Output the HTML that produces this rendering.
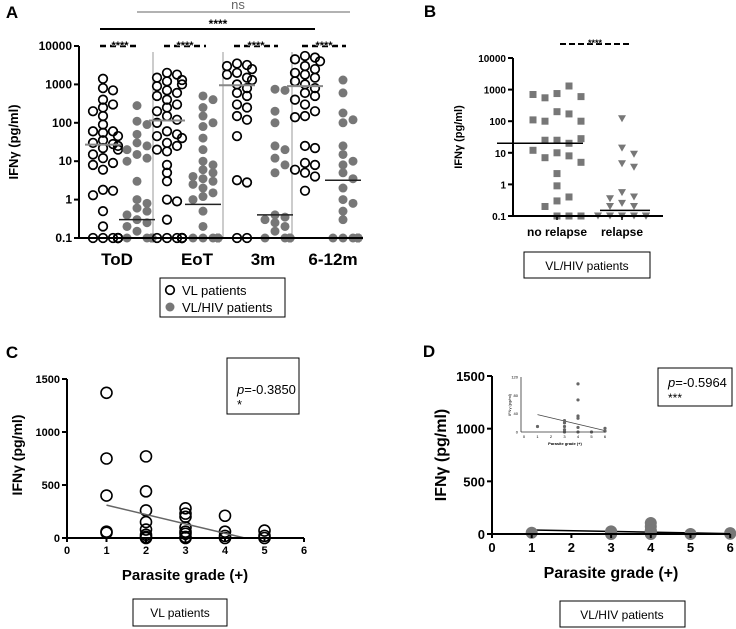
<!DOCTYPE html>
<html><head><meta charset="utf-8"><style>
body{margin:0;background:#fff}
svg{display:block;font-family:"Liberation Sans",Arial,sans-serif}
</style></head><body>
<svg id="fig" width="736" height="629" viewBox="0 0 736 629" xmlns="http://www.w3.org/2000/svg"></svg>
<script>
// ---------- Panel A data ----------
const aGroups = ["ToD","EoT","3m","6-12m"];
const aVL = [
 [1400,800,700,400,300,250,200,150,90,60,55,60,45,35,30,28,25,22,20,15,12,9,8,6,1.8,1.7,1.3,0.5,0.2,0.1,0.1,0.1,0.1,0.1,0.1,0.1,0.1],
 [2000,1800,1500,1300,1200,1000,900,700,600,500,400,300,250,200,150,120,100,60,50,45,40,30,25,20,18,8,5,3,1,0.9,0.3,0.1,0.1,0.1,0.1,0.1,0.1,0.1,0.1],
 [3500,3200,3000,2500,2000,1800,1500,1300,1000,800,600,500,300,250,150,120,45,3.2,2.8,0.1,0.1],
 [5500,5000,4500,4000,3000,2500,2000,1800,1500,1200,1000,800,600,500,400,300,200,150,140,25,22,9,8,6,5,4,1.7]
];
const aHIV = [
 [280,110,90,50,30,25,20,15,12,10,3,1,0.8,0.6,0.5,0.4,0.3,0.25,0.2,0.15,0.1,0.1,0.1,0.1,0.1,0.1,0.1,0.1,0.1,0.1,0.1,0.1],
 [500,400,250,150,100,80,40,20,10,8,6,5,4,3.5,3,2.5,2,1.5,1.2,1,0.5,0.2,0.1,0.1,0.1,0.1,0.1,0.1,0.1,0.1,0.1,0.1,0.1,0.1,0.1,0.1],
 [750,700,200,100,25,20,12,8,5,0.4,0.35,0.3,0.25,0.2,0.15,0.1,0.1,0.1,0.1,0.1,0.1,0.1,0.1],
 [1300,600,180,120,100,25,15,10,8,5,3.5,2,1,0.8,0.5,0.3,0.1,0.1,0.1,0.1,0.1,0.1,0.1,0.1,0.1,0.1,0.1,0.1]
];
const aVLMed = [27,115,950,900];
const aHIVMed = [0.3,0.75,0.4,3.2];
const aTicks = [0.1,1,10,100,1000,10000];
const aTickLabels = ["0.1","1","10","100","1000","10000"];
// ---------- Panel B data ----------
const bCats = ["no relapse","relapse"];
const bNoRel = [750,1300,550,600,700,200,170,100,100,110,25,20,25,28,10,8,7,12,5,2.2,0.9,0.4,0.3,0.2,0.1,0.1,0.1];
const bRel = [120,14,9,4.5,3.5,0.55,0.4,0.35,0.25,0.2,0.2,0.1,0.1,0.1,0.1,0.1,0.1,0.1,0.1];
const bMed = [20,0.15];
// ---------- Panel C data ----------
const cX = [1,1,1,1,1,2,2,2,2,2,2,2,2,3,3,3,3,3,3,3,3,4,4,4,4,5,5,5];
const cY = [1370,750,400,60,50,770,440,260,150,80,30,10,0,280,230,200,100,60,40,10,0,210,60,20,0,70,20,0];
const cFit = [[1,310],[4.5,0]];
const linTicks = [0,500,1000,1500];
const xTicks = [0,1,2,3,4,5,6];
// ---------- Panel D data ----------
const dX = [1,3,3,3,3,3,4,4,4,4,4,4,5,6,6];
const dY = [12,25,20,12,5,0,105,70,35,30,10,0,0,8,2];
const dFit = [[1,38],[6,3]];
const insetTicks = [0,40,80,120];

const NS="http://www.w3.org/2000/svg";
const svg=document.getElementById('fig');
function el(tag,attrs,parent,text){const e=document.createElementNS(NS,tag);for(const k in attrs)e.setAttribute(k,attrs[k]);if(text!==undefined)e.textContent=text;(parent||svg).appendChild(e);return e;}
function grp(name){const g=el('g',{});return g;}
function txt(p,x,y,s,size,opts){const t=el('text',Object.assign({x:x,y:y,'font-size':size,'text-anchor':'middle'},opts||{}),p,s);return t;}
function swarm(vals,ymap,sep,step,lim){const placed=[];const offs=[];vals.forEach(v=>{const y=ymap(v);let k=0,off=0;while(true){off=(k%2?1:-1)*Math.ceil(k/2)*step;if(!placed.some(p=>Math.abs(p.y-y)<sep&&Math.abs(p.x-off)<sep))break;k++;if(Math.abs(off)>lim)break;}off=Math.max(-lim,Math.min(lim,off));placed.push({x:off,y:y});offs.push(off);});return offs;}

// ================= Panel A =================
{
const g=grp('panel-a');
txt(g,12,18,'A',17,{'font-weight':'bold'});
const x0=79,x1=363,yTop=46,yBot=238;
const yA=v=>yBot-(Math.log10(v)+1)/5*(yBot-yTop);
[153,223,292].forEach(d=>{const l=el('line',{x1:d,y1:yTop+6,x2:d,y2:yBot,stroke:'#999','stroke-width':1},g);});
const vlx=[103,167,237,305],hx=[137,203,275,343],lx=[117,197,263,333];
aGroups.forEach((name,i)=>{
  const offV=swarm(aVL[i],yA,7.5,5,15);
  aVL[i].forEach((v,j)=>{const c=el('circle',{cx:vlx[i]+offV[j],cy:yA(v),r:4.3,fill:'none',stroke:'#000','stroke-width':1.7},g);});
  const offH=swarm(aHIV[i],yA,7.5,5,15);
  aHIV[i].forEach((v,j)=>{const c=el('circle',{cx:hx[i]+offH[j],cy:yA(v),r:4.5,fill:'#777'},g);});
  const m1=el('line',{x1:vlx[i]-18,x2:vlx[i]+18,y1:yA(aVLMed[i]),y2:yA(aVLMed[i]),stroke:'#888','stroke-width':2},g);
  const m2=el('line',{x1:hx[i]-18,x2:hx[i]+18,y1:yA(aHIVMed[i]),y2:yA(aHIVMed[i]),stroke:'#222','stroke-width':1.5},g);
  const d=el('line',{x1:vlx[i]-3,x2:hx[i]+3,y1:yTop,y2:yTop,stroke:'#000','stroke-width':2.5,'stroke-dasharray':'6,4'},g);
  const s=txt(g,(vlx[i]+hx[i])/2,yTop+3,'****',11,{'font-weight':'bold',fill:'#000',stroke:'#fff','stroke-width':0.6,'paint-order':'stroke'});
  const t=txt(g,lx[i],265,name,17,{'font-weight':'bold'});
});
el('line',{x1:x0,y1:yTop,x2:x0,y2:yBot,stroke:'#000','stroke-width':2},g);
el('line',{x1:x0,y1:yBot,x2:x1,y2:yBot,stroke:'#000','stroke-width':2},g);
aTicks.forEach((v,i)=>{el('line',{x1:x0-5,x2:x0,y1:yA(v),y2:yA(v),stroke:'#000','stroke-width':2},g);const t=txt(g,x0-7,yA(v)+4,aTickLabels[i],12,{'text-anchor':'end','font-weight':'bold'});});
const yt=txt(g,0,0,'IFNγ (pg/ml)',13,{'font-weight':'bold',transform:'translate(18,142) rotate(-90)'});
el('line',{x1:137,x2:350,y1:12,y2:12,stroke:'#999','stroke-width':1.5},g);
txt(g,238,9,'ns',13,{fill:'#666'});
el('line',{x1:100,x2:315,y1:29,y2:29,stroke:'#000','stroke-width':2},g);
txt(g,218,28,'****',12,{'font-weight':'bold'});
const lg=grp('legend-a');g.appendChild(lg);
el('rect',{x:160,y:278,width:125,height:39,fill:'#fff',stroke:'#000','stroke-width':1},lg);
el('circle',{cx:170,cy:290,r:4.3,fill:'none',stroke:'#000','stroke-width':1.7},lg);
txt(lg,182,295,'VL patients',13,{'text-anchor':'start'});
el('circle',{cx:170,cy:307,r:4.5,fill:'#777'},lg);
txt(lg,182,312,'VL/HIV patients',13,{'text-anchor':'start'});
}
// ================= Panel B =================
{
const g=grp('panel-b');
txt(g,430,17,'B',17,{'font-weight':'bold'});
const x0=513,x1=663,yTop=58,yBot=216;
const yB=v=>yBot-(Math.log10(v)+1)/5*(yBot-yTop);
const cx=[557,622];
const offN=swarm(bNoRel,yB,12,12,24);
bNoRel.forEach((v,j)=>{const r=el('rect',{x:cx[0]+offN[j]-3.5,y:yB(v)-3.5,width:7,height:7,fill:'#777'},g);});
const offR=swarm(bRel,yB,7,6,24);
bRel.forEach((v,j)=>{const o=offR[j];const y=yB(v);const p=el('path',{d:`M${cx[1]+o-4},${y-3.5}L${cx[1]+o+4},${y-3.5}L${cx[1]+o},${y+3.5}Z`,fill:'#777'},g);});
[[497,583],[600,650]].forEach((r,i)=>{const l=el('line',{x1:r[0],x2:r[1],y1:yB(bMed[i]),y2:yB(bMed[i]),stroke:'#000','stroke-width':1.5},g);});
el('line',{x1:x0,y1:yTop,x2:x0,y2:yBot,stroke:'#000','stroke-width':2},g);
el('line',{x1:x0,y1:yBot,x2:x1,y2:yBot,stroke:'#000','stroke-width':2},g);
aTicks.forEach((v,i)=>{el('line',{x1:x0-5,x2:x0,y1:yB(v),y2:yB(v),stroke:'#000','stroke-width':2},g);txt(g,x0-7,yB(v)+4,aTickLabels[i],10,{'text-anchor':'end','font-weight':'bold'});});
bCats.forEach((c,i)=>{el('line',{x1:cx[i],x2:cx[i],y1:yBot,y2:yBot+4,stroke:'#000','stroke-width':1.5},g);const t=txt(g,cx[i],236,c,12,{'font-weight':'bold'});});
txt(g,0,0,'IFNγ (pg/ml)',11,{'font-weight':'bold',transform:'translate(462,137) rotate(-90)'});
el('line',{x1:560,x2:630,y1:44,y2:44,stroke:'#000','stroke-width':2,'stroke-dasharray':'6,3'},g);
txt(g,595,46,'****',9,{'font-weight':'bold',fill:'#000',stroke:'#fff','stroke-width':0.6,'paint-order':'stroke'});
el('rect',{x:524,y:252,width:126,height:26,fill:'#fff',stroke:'#000','stroke-width':1},g);
txt(g,587,270,'VL/HIV patients',12);
}
// ================= Panel C =================
{
const g=grp('panel-c');
txt(g,12,358,'C',17,{'font-weight':'bold'});
const x0=67,yTop=379,yBot=538,pu=39.5;
const xC=v=>x0+v*pu, yC=v=>yBot-v/1500*(yBot-yTop);
cX.forEach((xv,i)=>{const c=el('circle',{cx:xC(xv),cy:yC(cY[i]),r:5.5,fill:'none',stroke:'#000','stroke-width':1.6},g);});
const f=el('line',{x1:xC(cFit[0][0]),y1:yC(cFit[0][1]),x2:xC(cFit[1][0]),y2:yC(cFit[1][1]),stroke:'#666','stroke-width':1.5},g);
el('line',{x1:x0,y1:yTop,x2:x0,y2:yBot,stroke:'#000','stroke-width':2},g);
el('line',{x1:x0,y1:yBot,x2:xC(6),y2:yBot,stroke:'#000','stroke-width':2},g);
linTicks.forEach(v=>{el('line',{x1:x0-5,x2:x0,y1:yC(v),y2:yC(v),stroke:'#000','stroke-width':2},g);txt(g,x0-7,yC(v)+4,String(v),11,{'text-anchor':'end','font-weight':'bold'});});
xTicks.forEach(v=>{el('line',{x1:xC(v),x2:xC(v),y1:yBot,y2:yBot+4,stroke:'#000','stroke-width':2},g);txt(g,xC(v),yBot+16,String(v),11,{'font-weight':'bold'});});
txt(g,185,580,'Parasite grade (+)',15,{'font-weight':'bold'});
txt(g,0,0,'IFNγ (pg/ml)',14,{'font-weight':'bold',transform:'translate(22,455) rotate(-90)'});
el('rect',{x:227,y:358,width:72,height:56,fill:'#fff',stroke:'#000','stroke-width':1},g);
const p=txt(g,237,394,'',13,{'text-anchor':'start'});p.innerHTML='<tspan font-style="italic">p</tspan>=-0.3850';
txt(g,237,409,'*',13,{'text-anchor':'start'});
el('rect',{x:133,y:599,width:94,height:27,fill:'#fff',stroke:'#000','stroke-width':1},g);
txt(g,180,617,'VL  patients',12);
}
// ================= Panel D =================
{
const g=grp('panel-d');
txt(g,429,357,'D',17,{'font-weight':'bold'});
const x0=492,yTop=376,yBot=534,pu=39.7;
const xD=v=>x0+v*pu, yD=v=>yBot-v/1500*(yBot-yTop);
el('line',{x1:xD(dFit[0][0]),y1:yD(dFit[0][1]),x2:xD(dFit[1][0]),y2:yD(dFit[1][1]),stroke:'#000','stroke-width':1.5},g);
dX.forEach((xv,i)=>{const c=el('circle',{cx:xD(xv),cy:yD(dY[i]),r:6,fill:'#777'},g);});
el('line',{x1:x0,y1:yTop,x2:x0,y2:yBot,stroke:'#000','stroke-width':2},g);
el('line',{x1:x0,y1:yBot,x2:xD(6),y2:yBot,stroke:'#000','stroke-width':2},g);
linTicks.forEach(v=>{el('line',{x1:x0-5,x2:x0,y1:yD(v),y2:yD(v),stroke:'#000','stroke-width':2},g);txt(g,x0-7,yD(v)+5,String(v),13,{'text-anchor':'end','font-weight':'bold'});});
xTicks.forEach(v=>{el('line',{x1:xD(v),x2:xD(v),y1:yBot,y2:yBot+4,stroke:'#000','stroke-width':2},g);txt(g,xD(v),yBot+18,String(v),13,{'font-weight':'bold'});});
txt(g,611,578,'Parasite grade (+)',16,{'font-weight':'bold'});
txt(g,0,0,'IFNγ (pg/ml)',16,{'font-weight':'bold',transform:'translate(446,455) rotate(-90)'});
el('rect',{x:658,y:368,width:74,height:38,fill:'#fff',stroke:'#000','stroke-width':1},g);
const p=txt(g,668,387,'',13,{'text-anchor':'start'});p.innerHTML='<tspan font-style="italic">p</tspan>=-0.5964';
txt(g,668,402,'***',12,{'text-anchor':'start'});
el('rect',{x:560,y:601,width:125,height:26,fill:'#fff',stroke:'#000','stroke-width':1},g);
txt(g,622,619,'VL/HIV patients',12);
const ig=grp('inset-chart');g.appendChild(ig);
const ix0=524,iyT=377,iyB=432,ipu=13.5;
const xi=v=>ix0+v*ipu, yi=v=>iyB-v/120*(iyB-iyT);
el('line',{x1:xi(dFit[0][0]),y1:yi(dFit[0][1]),x2:xi(dFit[1][0]),y2:yi(dFit[1][1]),stroke:'#444','stroke-width':0.8},ig);
dX.forEach((xv,i)=>{const c=el('circle',{cx:xi(xv),cy:yi(dY[i]),r:1.6,fill:'#666'},ig);});
el('line',{x1:521,y1:iyT,x2:521,y2:iyB,stroke:'#333','stroke-width':0.8},ig);
el('line',{x1:521,y1:iyB,x2:xi(6),y2:iyB,stroke:'#333','stroke-width':0.8},ig);
insetTicks.forEach(v=>txt(ig,518,yi(v)+1.5,String(v),4,{'text-anchor':'end'}));
xTicks.forEach(v=>txt(ig,xi(v),iyB+6,String(v),4));
txt(ig,565,445,'Parasite grade (+)',4,{'font-weight':'bold'});
txt(ig,0,0,'IFNγ (pg/ml)',4,{transform:'translate(511,405) rotate(-90)'});
}
</script>
</body></html>
